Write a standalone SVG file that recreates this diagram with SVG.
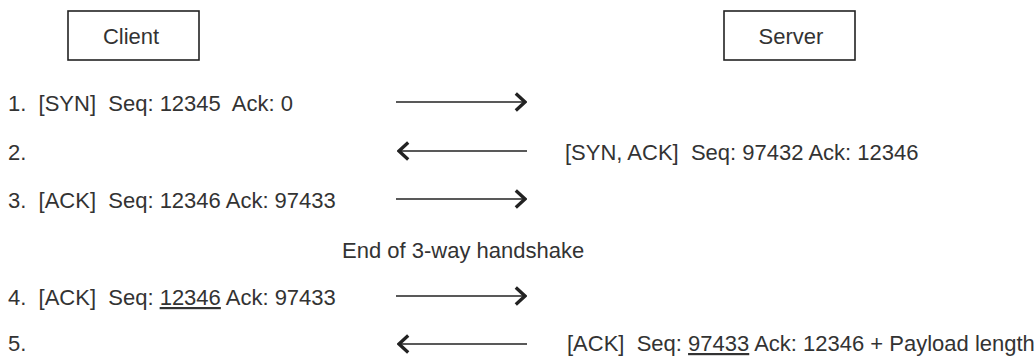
<svg xmlns="http://www.w3.org/2000/svg" width="1035" height="360" viewBox="0 0 1035 360">
  <style>
    text { font-family: "Liberation Sans", Arial, Helvetica, sans-serif; font-size: 22px; fill: #333; white-space: pre; }
    .box { fill: #fff; stroke: #222; stroke-width: 1.6; }
    .wire { stroke: #222; stroke-width: 1.6; fill: none; }
    .u { text-decoration: underline; }
  </style>
  <defs>
    <marker id="chev" viewBox="0 0 13 20" refX="12" refY="10" markerWidth="13" markerHeight="20" markerUnits="userSpaceOnUse" orient="auto">
      <path d="M1.8,1.5 L11,10 L1.8,18.5" fill="none" stroke="#222" stroke-width="3.3"/>
    </marker>
  </defs>
  <rect width="1035" height="360" fill="#fff"/>

  <g id="client">
    <rect class="box" x="68" y="11" width="131" height="49"/>
    <text x="131" y="44" text-anchor="middle">Client</text>
  </g>
  <g id="server">
    <rect class="box" x="724" y="11" width="131" height="49"/>
    <text x="791" y="44" text-anchor="middle">Server</text>
  </g>

  <g id="labels">
    <text x="8" y="111">1.  [SYN]  Seq: 12345  Ack: 0</text>
    <text x="8" y="160">2.</text>
    <text x="565" y="160">[SYN, ACK]  Seq: 97432 Ack: 12346</text>
    <text x="8" y="208">3.  [ACK]  Seq: 12346 Ack: 97433</text>
    <text x="342" y="258">End of 3-way handshake</text>
    <text x="8" y="305">4.  [ACK]  Seq: <tspan class="u">12346</tspan> Ack: 97433</text>
    <text x="8" y="351">5.</text>
    <text x="567" y="351">[ACK]  Seq: <tspan class="u">97433</tspan> Ack: 12346 + Payload length</text>
  </g>

  <g id="connectors">
    <line class="wire" x1="396" y1="102" x2="526" y2="102" marker-end="url(#chev)"/>
    <line class="wire" x1="527" y1="151" x2="398" y2="151" marker-end="url(#chev)"/>
    <line class="wire" x1="396" y1="199" x2="526" y2="199" marker-end="url(#chev)"/>
    <line class="wire" x1="396" y1="296" x2="526" y2="296" marker-end="url(#chev)"/>
    <line class="wire" x1="527" y1="344" x2="398" y2="344" marker-end="url(#chev)"/>
  </g>
</svg>
